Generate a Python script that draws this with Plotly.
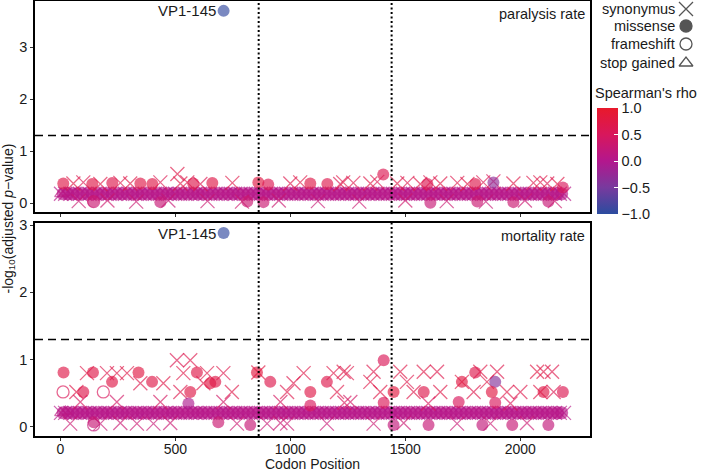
import plotly.graph_objects as go

# ---------------- data ----------------
# region boundaries (codon positions) and significance threshold
REGION_BOUNDS = [862.5, 1440.5]
SIG_LEVEL = 1.301  # -log10(0.05)

# dense band of non-significant variants (same codons in both phenotypes)
BAND_SYN_X = [3, 21, 44, 62, 85, 108, 127, 150, 171, 196, 214, 238, 259, 281, 300, 326, 345, 367, 390, 411,
              433, 458, 476, 499, 520, 543, 566, 588, 607, 630, 652, 675, 697, 719, 741, 760, 784, 806, 828,
              850, 873, 894, 916, 939, 960, 982, 1004, 1027, 1049, 1070, 1093, 1115, 1136, 1159, 1181, 1204,
              1225, 1247, 1269, 1290, 1313, 1336, 1357, 1379, 1401, 1424, 1446, 1467, 1490, 1512, 1533, 1556,
              1578, 1600, 1622, 1643, 1666, 1688, 1709, 1732, 1754, 1777, 1798, 1820, 1842, 1864, 1886, 1909,
              1930, 1952, 1974, 1997, 2018, 2041, 2062, 2085, 2107, 2128, 2151, 2172, 2190]
BAND_MIS_X = [12, 33, 55, 74, 97, 118, 139, 161, 184, 205, 226, 249, 270, 292, 314, 336, 356, 379, 401, 422,
              445, 467, 488, 510, 532, 554, 577, 598, 619, 641, 663, 686, 708, 730, 751, 773, 795, 817, 839,
              862, 884, 905, 927, 950, 971, 993, 1015, 1038, 1059, 1082, 1104, 1126, 1148, 1170, 1192, 1214,
              1236, 1258, 1280, 1302, 1324, 1346, 1368, 1390, 1412, 1435, 1457, 1479, 1501, 1522, 1545, 1567,
              1589, 1611, 1633, 1655, 1677, 1699, 1721, 1743, 1765, 1787, 1809, 1831, 1853, 1875, 1897, 1919,
              1941, 1963, 1986, 2008, 2030, 2052, 2074, 2096, 2118, 2140, 2162, 2180]
BAND_Y_PARALYSIS = 0.18
BAND_Y_MORTALITY = 0.21
BAND_RHO = 0.05

# ---- paralysis rate panel ----
PAR_SYN_X = [57, 100, 174, 261, 304, 435, 509, 522, 552, 609, 748, 1000, 1043, 1217, 1230, 1274, 1348, 1378,
             1465, 1509, 1565, 1609, 1652, 1726, 1770, 1839, 1883, 1970, 2057, 2087, 2117, 2161,
             80, 205, 330, 470, 640, 790, 950, 1120, 1300, 1500, 1680, 1850, 2020, 2150]
PAR_SYN_Y = [0.38, 0.40, 0.37, 0.39, 0.38, 0.40, 0.56, 0.38, 0.40, 0.37, 0.39, 0.38, 0.40, 0.37, 0.40, 0.39,
             0.38, 0.41, 0.38, 0.39, 0.37, 0.40, 0.38, 0.39, 0.37, 0.40, 0.42, 0.38, 0.39, 0.40, 0.38, 0.37,
             0.04, 0.05, 0.03, 0.05, 0.04, 0.03, 0.05, 0.04, 0.03, 0.05, 0.04, 0.03, 0.05, 0.04]
PAR_SYN_RHO = [0.7, 0.6, 0.7, 0.65, 0.7, 0.6, 0.7, 0.7, 0.65, 0.6, 0.7, 0.65, 0.7, 0.6, 0.7, 0.65, 0.7, 0.6,
               0.7, 0.65, 0.7, 0.6, 0.7, 0.65, 0.7, 0.6, 0.5, 0.7, 0.65, 0.7, 0.6, 0.7,
               0.3, 0.35, 0.3, 0.25, 0.3, 0.35, 0.3, 0.25, 0.3, 0.35, 0.3, 0.25, 0.3, 0.35]
PAR_MIS_X = [710, 13, 139, 226, 348, 400, 578, 661, 861, 904, 1087, 1161, 1404, 1596, 1804, 1883, 2185,
             143, 435, 813, 883, 1609, 1813, 1970, 2122]
PAR_MIS_Y = [3.70, 0.38, 0.37, 0.39, 0.38, 0.37, 0.38, 0.39, 0.40, 0.36, 0.38, 0.37, 0.55, 0.37, 0.37, 0.40, 0.30,
             0.03, 0.02, 0.03, 0.02, 0.01, 0.03, 0.02, 0.03]
PAR_MIS_RHO = [-0.95, 0.7, 0.7, 0.65, 0.7, 0.7, 0.65, 0.7, 0.75, 0.6, 0.7, 0.65, 0.6, 0.6, 0.65, -0.3, 0.5,
               0.3, 0.25, 0.3, 0.3, 0.25, 0.3, 0.3, 0.25]
PAR_FS_X = [145]
PAR_FS_Y = [0.03]
PAR_FS_RHO = [0.3]
PAR_STOP_X = [3, 22]
PAR_STOP_Y = [0.18, 0.20]
PAR_STOP_RHO = [0.1, 0.1]

# ---- mortality rate panel ----
MOR_SYN_X = [70, 116, 203, 246, 290, 348, 448, 507, 565, 535, 638, 522, 622, 709, 746, 861, 986, 1058, 1014,
             1188, 1246, 1203, 1232, 1362, 1478, 1580, 1638, 1826, 1899, 2073, 2101, 2138, 1348, 1507, 1746,
             1855, 1391, 1536, 1652, 1797, 1942, 2000, 2087, 2145, 1957, 1235, 1600,
             87, 246, 435, 709, 957, 1261,
             43, 174, 261, 333, 405, 478, 768, 899, 957, 986, 1159, 1362, 1493, 1725, 1870, 2029]
MOR_SYN_Y = [0.52, 0.80, 0.80, 0.80, 0.80, 0.65, 0.65, 0.99, 0.99, 0.80, 0.80, 0.52, 0.65, 0.80, 0.52, 0.81,
             0.52, 0.80, 0.65, 0.80, 0.80, 0.52, 0.82, 0.82, 0.82, 0.82, 0.82, 0.82, 0.82, 0.82, 0.82, 0.82,
             0.67, 0.67, 0.67, 0.67, 0.52, 0.52, 0.52, 0.52, 0.52, 0.52, 0.52, 0.52, 0.35, 0.36, 0.35,
             0.37, 0.37, 0.37, 0.37, 0.37, 0.37,
             0.05, 0.05, 0.06, 0.05, 0.05, 0.06, 0.05, 0.05, 0.06, 0.05, 0.05, 0.05, 0.06, 0.05, 0.05, 0.06]
MOR_SYN_RHO = [0.7, 0.7, 0.65, 0.7, 0.7, 0.65, 0.7, 0.6, 0.65, 0.7, 0.7, 0.65, 0.7, 0.65, 0.7, 0.75,
               0.65, 0.7, 0.65, 0.7, 0.65, 0.7, 0.7, 0.65, 0.7, 0.7, 0.65, 0.7, 0.65, 0.75, 0.7, 0.65,
               0.7, 0.65, 0.75, 0.7, 0.7, 0.65, 0.7, 0.65, 0.7, 0.65, 0.7, 0.6, 0.5, 0.5, 0.5,
               0.45, 0.4, 0.45, 0.4, 0.45, 0.4,
               0.3, 0.25, 0.3, 0.3, 0.25, 0.3, 0.3, 0.25, 0.3, 0.3, 0.25, 0.3, 0.3, 0.25, 0.3, 0.3]
MOR_MIS_X = [710, 14, 100, 142, 225, 340, 399, 594, 565, 557, 652, 674, 855, 913, 1087, 1159, 1087, 1406, 1804,
             1891, 1746, 1449, 1580, 1876, 2101, 2185, 1406, 1732, 1891,
             145, 687, 826, 1449, 1601, 1835, 1965, 2122]
MOR_MIS_Y = [2.88, 0.81, 0.52, 0.81, 0.67, 0.81, 0.67, 0.81, 0.52, 0.35, 0.65, 0.67, 0.81, 0.67, 0.52, 0.67,
             0.32, 0.99, 0.81, 0.67, 0.67, 0.52, 0.52, 0.52, 0.52, 0.52, 0.36, 0.37, 0.36,
             0.07, 0.07, 0.03, 0.03, 0.03, 0.03, 0.03, 0.03]
MOR_MIS_RHO = [-0.95, 0.7, 0.65, 0.7, 0.7, 0.75, 0.7, 0.7, 0.7, -0.05, 0.75, 0.7, 0.8, 0.65, 0.7, 0.65,
               0.5, 0.55, 0.65, -0.4, 0.75, 0.8, 0.65, 0.75, 0.7, 0.6, 0.55, 0.5, 0.5,
               0.25, 0.3, 0.25, 0.2, 0.25, 0.2, 0.25, 0.2]
MOR_FS_X = [12, 187, 145]
MOR_FS_Y = [0.52, 0.52, 0.03]
MOR_FS_RHO = [0.55, 0.5, 0.2]
MOR_STOP_X = [3, 22]
MOR_STOP_Y = [0.21, 0.23]
MOR_STOP_RHO = [0.1, 0.1]

PANEL_LABELS = ["paralysis rate", "mortality rate"]
HIGHLIGHT_LABEL = "VP1-145"
LEGEND_LABELS = ["synonymus", "missense", "frameshift", "stop gained"]
X_TICKS = [0, 500, 1000, 1500, 2000]
Y_TICKS = [0, 1, 2, 3]
RHO_TICKS = [-1.0, -0.5, 0.0, 0.5, 1.0]

# ---------------- figure ----------------
W, H = 703, 470
ML, MR, MT, MB = 35, 0, 1, 34
PW, PH = W - ML - MR, H - MT - MB
FONT = "Liberation Sans, Arial, Helvetica, sans-serif"

def px_x(p):
    return (p - ML) / PW

def px_y(p):
    return (H - MB - p) / PH

PANEL_RIGHT = 590
TOP_PANEL = (1, 212)
BOT_PANEL = (223, 436)

COLORSCALE = [[0.0, "#2B4C9F"], [0.25, "#783A9E"], [0.5, "#B3178D"], [0.75, "#D8175C"], [1.0, "#E8192B"]]
OPAC = 0.65

fig = go.Figure()

def sym_trace(x, y, rho, symbol, size, xa, ya, lw=1.3):
    return go.Scatter(
        x=x, y=y, mode="markers", xaxis=xa, yaxis=ya, showlegend=False, hoverinfo="skip",
        marker=dict(symbol=symbol, size=size, color=rho, coloraxis="coloraxis", opacity=OPAC,
                    line=dict(width=lw)),
    )

panels = [
    ("x2", "y2", BAND_Y_PARALYSIS, PAR_SYN_X, PAR_SYN_Y, PAR_SYN_RHO, PAR_MIS_X, PAR_MIS_Y, PAR_MIS_RHO,
     PAR_FS_X, PAR_FS_Y, PAR_FS_RHO, PAR_STOP_X, PAR_STOP_Y, PAR_STOP_RHO),
    ("x", "y", BAND_Y_MORTALITY, MOR_SYN_X, MOR_SYN_Y, MOR_SYN_RHO, MOR_MIS_X, MOR_MIS_Y, MOR_MIS_RHO,
     MOR_FS_X, MOR_FS_Y, MOR_FS_RHO, MOR_STOP_X, MOR_STOP_Y, MOR_STOP_RHO),
]

for (xa, ya, by, sx, sy, sr, mx, my, mr, fx, fy, fr, tx, ty, tr) in panels:
    fig.add_trace(sym_trace(BAND_MIS_X, [by] * len(BAND_MIS_X), [BAND_RHO] * len(BAND_MIS_X),
                            "circle", 13, xa, ya, lw=0))
    fig.add_trace(sym_trace(BAND_SYN_X, [by] * len(BAND_SYN_X), [BAND_RHO] * len(BAND_SYN_X),
                            "x-thin-open", 14, xa, ya))
    fig.add_trace(sym_trace(tx, ty, tr, "triangle-up-open", 11, xa, ya))
    fig.add_trace(sym_trace(fx, fy, fr, "circle-open", 12, xa, ya))
    fig.add_trace(sym_trace(sx, sy, sr, "x-thin-open", 14, xa, ya))
    fig.add_trace(sym_trace(mx, my, mr, "circle", 12, xa, ya, lw=0))
    # highlighted site label
    fig.add_annotation(x=mx[0], y=my[0], xref=xa, yref=ya, text=HIGHLIGHT_LABEL, showarrow=False,
                       xanchor="right", yanchor="middle", xshift=-6, font=dict(size=15, color="#1a1a1a"))

# legend keys on an overlay axis in pixel units
LEG_SYMBOLS = ["x-thin-open", "circle", "circle-open", "triangle-up-open"]
LEG_Y = [9, 26, 44, 63]
for sym, ly, lab in zip(LEG_SYMBOLS, LEG_Y, LEGEND_LABELS):
    fig.add_trace(go.Scatter(x=[686], y=[ly], xaxis="x3", yaxis="y3", mode="markers", showlegend=False,
                             hoverinfo="skip", cliponaxis=False,
                             marker=dict(symbol=sym, size=12 if sym != "x-thin-open" else 14,
                                         color="#555555", line=dict(width=1.3, color="#555555"))))
    fig.add_annotation(x=677, y=ly, xref="x3", yref="y3", text=lab, showarrow=False, xanchor="right",
                       yanchor="middle", font=dict(size=14.5, color="#1a1a1a"))

fig.add_annotation(x=593, y=93, xref="x3", yref="y3", text="Spearman's rho", showarrow=False,
                   xanchor="left", yanchor="middle", font=dict(size=14.5, color="#1a1a1a"))

# panel labels
for lab, ya in zip(PANEL_LABELS, ["y2", "y"]):
    fig.add_annotation(x=1, y=1, xref=("x2" if ya == "y2" else "x") + " domain", yref=ya + " domain",
                       text=lab, showarrow=False, xanchor="right", yanchor="top", xshift=-3, yshift=-3,
                       font=dict(size=14.5, color="#1a1a1a"))

# reference lines
for xa, ya in [("x2", "y2"), ("x", "y")]:
    fig.add_shape(type="line", xref=xa + " domain", yref=ya, x0=0, x1=1, y0=SIG_LEVEL, y1=SIG_LEVEL,
                  line=dict(color="black", width=1.5, dash="8px,5px"), layer="below")
    for b in REGION_BOUNDS:
        fig.add_shape(type="line", xref=xa, yref=ya + " domain", x0=b, x1=b, y0=0, y1=1,
                      line=dict(color="black", width=2, dash="2px,2.5px"), layer="above")

# axis titles
fig.add_annotation(x=px_x(8), y=px_y((TOP_PANEL[0] + BOT_PANEL[1]) / 2), xref="paper", yref="paper",
                   text="-log<sub>10</sub>(adjusted <i>p</i>\u2212value)", textangle=-90, showarrow=False,
                   xanchor="center", yanchor="middle", font=dict(size=14, color="#1a1a1a"))
fig.add_annotation(x=px_x((ML + PANEL_RIGHT) / 2), y=px_y(464), xref="paper", yref="paper",
                   text="Codon Position", showarrow=False, xanchor="center", yanchor="middle",
                   font=dict(size=14, color="#1a1a1a"))

XRANGE = [-110, 2303]
axis_common = dict(showline=True, mirror=True, linecolor="black", linewidth=1.6, ticks="outside",
                   ticklen=3, tickwidth=1.2, tickcolor="#333333", showgrid=False, zeroline=False,
                   tickfont=dict(size=14.5, color="#1a1a1a", family=FONT))
x_common = dict(axis_common, tickfont=dict(size=14, color="#1a1a1a", family=FONT))

fig.update_layout(
    width=W, height=H, margin=dict(l=ML, r=MR, t=MT, b=MB, autoexpand=False),
    plot_bgcolor="rgba(0,0,0,0)", paper_bgcolor="white",
    font=dict(family=FONT, color="#1a1a1a"),
    xaxis=dict(domain=[0, px_x(PANEL_RIGHT)], range=XRANGE, anchor="y", tickvals=X_TICKS,
               ticklabelstandoff=-4, **x_common),
    yaxis=dict(domain=[0, px_y(BOT_PANEL[0])], range=[-0.134, 3.03], anchor="x", tickvals=Y_TICKS,
               **axis_common),
    xaxis2=dict(domain=[0, px_x(PANEL_RIGHT)], range=XRANGE, anchor="y2", tickvals=X_TICKS,
                showticklabels=False, matches="x", **x_common),
    yaxis2=dict(domain=[px_y(TOP_PANEL[1]), 1], range=[-0.17, 3.89], anchor="x2", tickvals=Y_TICKS,
                **axis_common),
    xaxis3=dict(domain=[0, 1], range=[ML, W], visible=False, anchor="y3", fixedrange=True),
    yaxis3=dict(domain=[0, 1], range=[H - MB, MT], visible=False, anchor="x3", fixedrange=True),
    coloraxis=dict(
        colorscale=COLORSCALE, cmin=-1, cmax=1,
        colorbar=dict(thickness=21, thicknessmode="pixels", len=106, lenmode="pixels",
                      x=px_x(597), xanchor="left", y=px_y(108), yanchor="top", xpad=0, ypad=0,
                      outlinewidth=0, tickvals=RHO_TICKS, ticktext=["\u22121.0", "\u22120.5", "0.0", "0.5", "1.0"],
                      ticks="inside", ticklen=4, tickcolor="white", tickwidth=1,
                      tickfont=dict(size=14.5, color="#1a1a1a"), title=dict(text="")),
    ),
)

fig.write_html("out.html", config={"displayModeBar": False},
               post_script="document.body.style.margin='0px';document.body.style.padding='0px';")
